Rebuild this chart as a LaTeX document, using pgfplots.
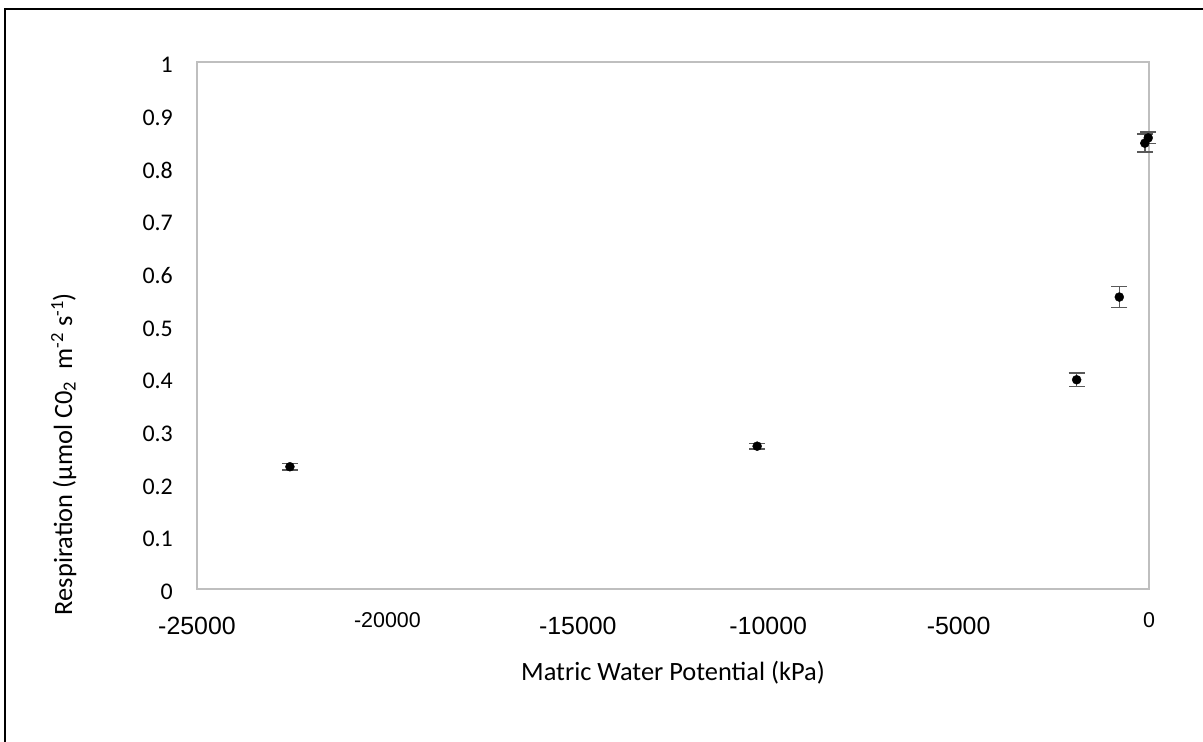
\documentclass[border=0pt]{standalone}
\usepackage{fontspec}
\setmainfont{Carlito}
\newfontfamily\arialfont{Liberation Sans}
\usepackage{pgfplots}
\pgfplotsset{compat=1.18}
\definecolor{boxgray}{HTML}{BFBFBF}
\definecolor{errgray}{HTML}{595959}
\pgfplotstableread{
x y e
-22560 0.232 0.006
-10290 0.271 0.005
-1900 0.397 0.013
-780 0.554 0.020
-110 0.846 0.017
-20 0.856 0.011
}\datatable
\begin{document}
\begin{tikzpicture}
\path[use as bounding box] (0,0) rectangle (1203bp,742bp);
\draw[black, line width=1.5bp] (5bp,0) -- (5bp,733bp) -- (1203bp,733bp);
\begin{axis}[
  at={(197bp,153bp)}, anchor=south west,
  scale only axis, width=952bp, height=527bp,
  xmin=-25000, xmax=0, ymin=0, ymax=1,
  clip=false,
  scaled x ticks=false, scaled y ticks=false,
  axis line style={draw=boxgray, line width=1.5bp},
  major tick length=0pt,
  ytick={0,0.1,0.2,0.3,0.4,0.5,0.6,0.7,0.8,0.9,1},
  yticklabels={0,0.1,0.2,0.3,0.4,0.5,0.6,0.7,0.8,0.9,1},
  yticklabel style={anchor=east, inner sep=0pt, xshift=-24bp, yshift=-3bp, font=\fontsize{24}{28}\selectfont},
  xtick={-25000,-20000,-15000,-10000,-5000,0},
  xticklabels={-25000,{\fontsize{21.5}{26}\selectfont\raisebox{7bp}{-20000}},-15000,-10000,-5000,{\fontsize{21.5}{26}\selectfont\raisebox{7bp}{0}}},
  xticklabel style={anchor=base, inner sep=0pt, yshift=-46bp, font=\arialfont\fontsize{25}{30}\selectfont},
  xlabel={Matric Water Potential (kPa)},
  xlabel style={at={(axis description cs:0.5,-0.1727)}, anchor=base, inner sep=0pt, font=\fontsize{26.5}{32}\selectfont},
  ylabel={Respiration (µmol C0\textsubscript{2}\ \ m\textsuperscript{-2} s\textsuperscript{-1})},
  ylabel style={at={(axis description cs:-0.1313,0.256)}, anchor=base, inner sep=0pt, font=\fontsize{26.5}{32}\selectfont},
]
\addplot[only marks, mark=*, mark size=4.5bp, mark options={fill=black, draw=black},
  error bars/.cd, y dir=both, y explicit,
  error bar style={color=errgray, line width=1.5bp},
  error mark options={color=errgray, line width=1.5bp, mark size=8bp, rotate=90}]
  table[x=x, y=y, y error=e]{\datatable};
\end{axis}
\end{tikzpicture}
\end{document}
